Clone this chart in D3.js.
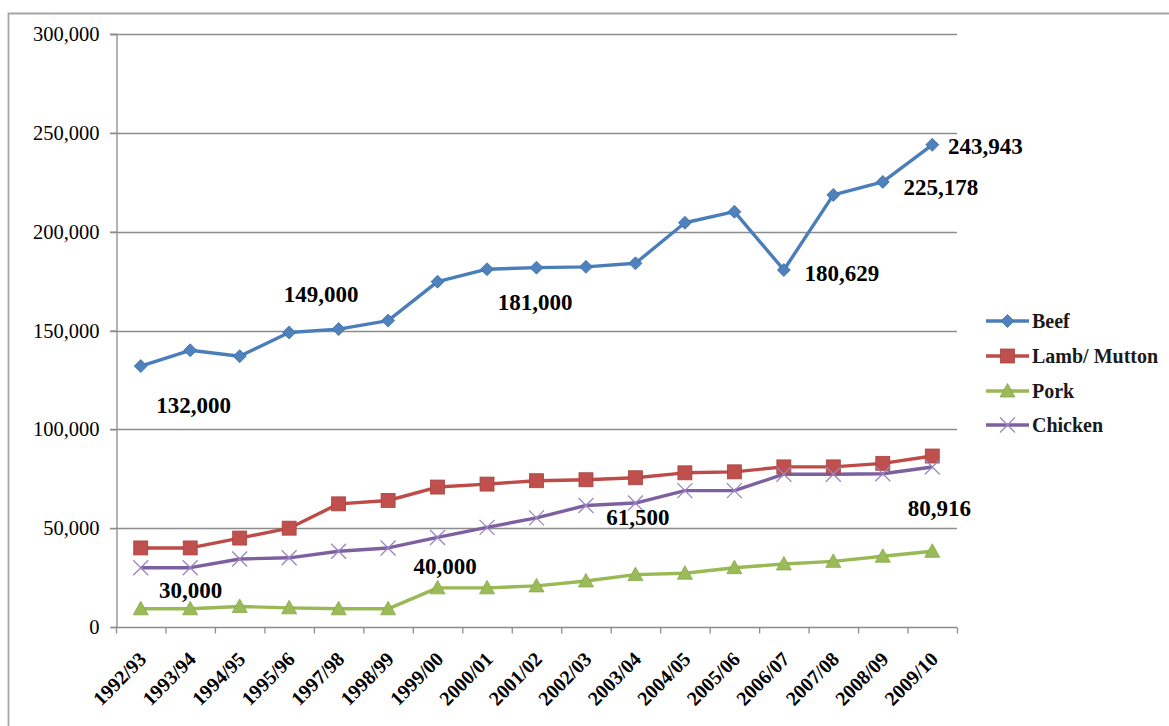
<!DOCTYPE html>
<html>
<head>
<meta charset="utf-8">
<script src="https://cdn.jsdelivr.net/npm/d3@7"></script>
<style>
  body { margin: 0; background: #fff; }
  svg { display: block; }
  svg text { font-family: "Liberation Serif", "Times New Roman", "DejaVu Serif", serif; }
</style>
</head>
<body>
<svg id="chart" width="1169" height="726"></svg>
<script>
// Meat consumption by season (tonnes)
const seasons = ["1992/93","1993/94","1994/95","1995/96","1997/98","1998/99","1999/00","2000/01","2001/02","2002/03","2003/04","2004/05","2005/06","2006/07","2007/08","2008/09","2009/10"];
const beef    = [132000,140000,137000,149000,150700,155000,174700,181000,181800,182200,184000,204500,210100,180629,218600,225178,243943];
const lamb    = [40000,40000,45000,50000,62300,64000,70800,72300,74000,74500,75500,78000,78500,81000,81000,82800,86500];
const pork    = [9200,9200,10400,9700,9200,9200,19800,19800,20800,23300,26500,27200,30000,31900,33200,35800,38300];
const chicken = [30000,30000,34400,35000,38300,40000,45300,50400,55200,61500,62700,69000,69000,77300,77300,77500,80916];
const yTicks  = [0,50000,100000,150000,200000,250000,300000];
const seriesNames = ["Beef","Lamb/ Mutton","Pork","Chicken"];

// Value callouts: series index, season index, offset of the text centre from the point
const callouts = [
  {s:0, i:0,  dx:53, dy:39},
  {s:0, i:3,  dx:32, dy:-39},
  {s:0, i:7,  dx:48, dy:33},
  {s:0, i:13, dx:58, dy:3},
  {s:0, i:15, dx:58, dy:5},
  {s:0, i:16, dx:53, dy:1},
  {s:3, i:0,  dx:50, dy:22},
  {s:3, i:5,  dx:57, dy:18},
  {s:3, i:9,  dx:52, dy:12},
  {s:3, i:16, dx:7,  dy:41}
];

const svg = d3.select("#chart");
const data = [beef, lamb, pork, chicken];
const lineColors = ["#4A7EBB","#BE4B48","#98B954","#7D60A0"];
const markColors = ["#4F81BD","#C0504D","#9BBB59","#8064A2"];

// frame around the chart area
svg.append("path")
  .attr("d", "M8.5,726 V13.5 H1169")
  .attr("fill","none").attr("stroke","#a6a6a6").attr("stroke-width",1.8);

const x0 = 116, x1 = 957, y0 = 627, y1 = 34;
const x = d3.scaleBand().domain(seasons).range([x0, x1]);
const y = d3.scaleLinear().domain([0, 300000]).range([y0, y1]);
const cx = s => x(s) + x.bandwidth() / 2;

// gridlines
svg.append("g").selectAll("line").data(yTicks.filter(v => v > 0)).join("line")
  .attr("x1", x0 - 6).attr("x2", x1)
  .attr("y1", d => Math.round(y(d)) + 0.5).attr("y2", d => Math.round(y(d)) + 0.5)
  .attr("stroke", "#8c8c8c").attr("stroke-width", 1.3);

// y axis
const yAxis = svg.append("g").attr("transform", `translate(${x0 + 0.5},0)`)
  .call(d3.axisLeft(y).tickValues(yTicks).tickSize(6).tickPadding(11)
    .tickFormat(d3.format(",")));
yAxis.attr("font-family", null).attr("font-size", null);
yAxis.select(".domain").attr("stroke", "#8c8c8c").attr("stroke-width", 1.3);
yAxis.selectAll(".tick line").attr("stroke", "#8c8c8c").attr("stroke-width", 1.3);
yAxis.selectAll("text").style("font-size", "20.5px").attr("fill", "#000");

// x axis
const boundaries = seasons.map(s => x(s)).concat([x1]);
const xg = svg.append("g").attr("transform", `translate(0,${y0 + 0.5})`);
xg.append("line").attr("x1", x0).attr("x2", x1).attr("stroke", "#8c8c8c").attr("stroke-width", 1.3);
xg.selectAll(".tk").data(boundaries).join("line").attr("class","tk")
  .attr("x1", d => d + 0.5).attr("x2", d => d + 0.5).attr("y1", 0).attr("y2", 6)
  .attr("stroke", "#8c8c8c").attr("stroke-width", 1.3);
xg.selectAll("text").data(seasons).join("text")
  .attr("transform", d => `translate(${cx(d) + 2},${28}) rotate(-45)`)
  .attr("text-anchor", "end").attr("dy", "0.35em")
  .style("font-size", "20px").style("font-weight", "bold")
  .text(d => d);

// lines and markers
const line = d3.line().x((d, i) => cx(seasons[i])).y(d => y(d));
data.forEach((vals, k) => {
  svg.append("path").datum(vals).attr("d", line)
    .attr("fill", "none").attr("stroke", lineColors[k]).attr("stroke-width", 3.4)
    .attr("stroke-linejoin", "round");
});

function marker(g, k, px, py) {
  if (k === 0) {
    const r = 6.5;
    g.append("path").attr("d", `M${px},${py - r}L${px + r},${py}L${px},${py + r}L${px - r},${py}Z`)
      .attr("fill", markColors[0]).attr("stroke", "#3e6ea8").attr("stroke-width", 0.8);
  } else if (k === 1) {
    const h = 7;
    g.append("rect").attr("x", px - h).attr("y", py - h).attr("width", 2 * h).attr("height", 2 * h)
      .attr("fill", markColors[1]).attr("stroke", "#a84340").attr("stroke-width", 0.8);
  } else if (k === 2) {
    const h = 7.5;
    g.append("path").attr("d", `M${px},${py - h}L${px + h},${py + h * 0.8}L${px - h},${py + h * 0.8}Z`)
      .attr("fill", markColors[2]).attr("stroke", "#86a84a").attr("stroke-width", 0.8);
  } else {
    const h = 7.5;
    g.append("path").attr("d", `M${px - h},${py - h}L${px + h},${py + h}M${px + h},${py - h}L${px - h},${py + h}`)
      .attr("stroke", "#9a86c2").attr("stroke-width", 1.3).attr("fill", "none");
  }
}

data.forEach((vals, k) => {
  const g = svg.append("g");
  vals.forEach((v, i) => marker(g, k, cx(seasons[i]), y(v)));
});

// value callouts
svg.append("g").selectAll("text").data(callouts).join("text")
  .attr("x", d => cx(seasons[d.i]) + d.dx)
  .attr("y", d => y(data[d.s][d.i]) + d.dy)
  .attr("text-anchor", "middle").attr("dy", "0.35em")
  .style("font-size", "23px").style("font-weight", "bold")
  .attr("fill", "#000")
  .text(d => d3.format(",")(data[d.s][d.i]));

// legend
const legY = [321, 356, 391, 425];
const lg = svg.append("g");
seriesNames.forEach((name, k) => {
  lg.append("line").attr("x1", 986).attr("x2", 1029).attr("y1", legY[k]).attr("y2", legY[k])
    .attr("stroke", lineColors[k]).attr("stroke-width", 3.4);
  marker(lg, k, 1007.5, legY[k]);
  lg.append("text").attr("x", 1032).attr("y", legY[k]).attr("dy", "0.35em")
    .style("font-size", "20px").style("font-weight", "bold")
    .attr("fill", "#1a1a1a").text(name);
});
</script>
</body>
</html>
